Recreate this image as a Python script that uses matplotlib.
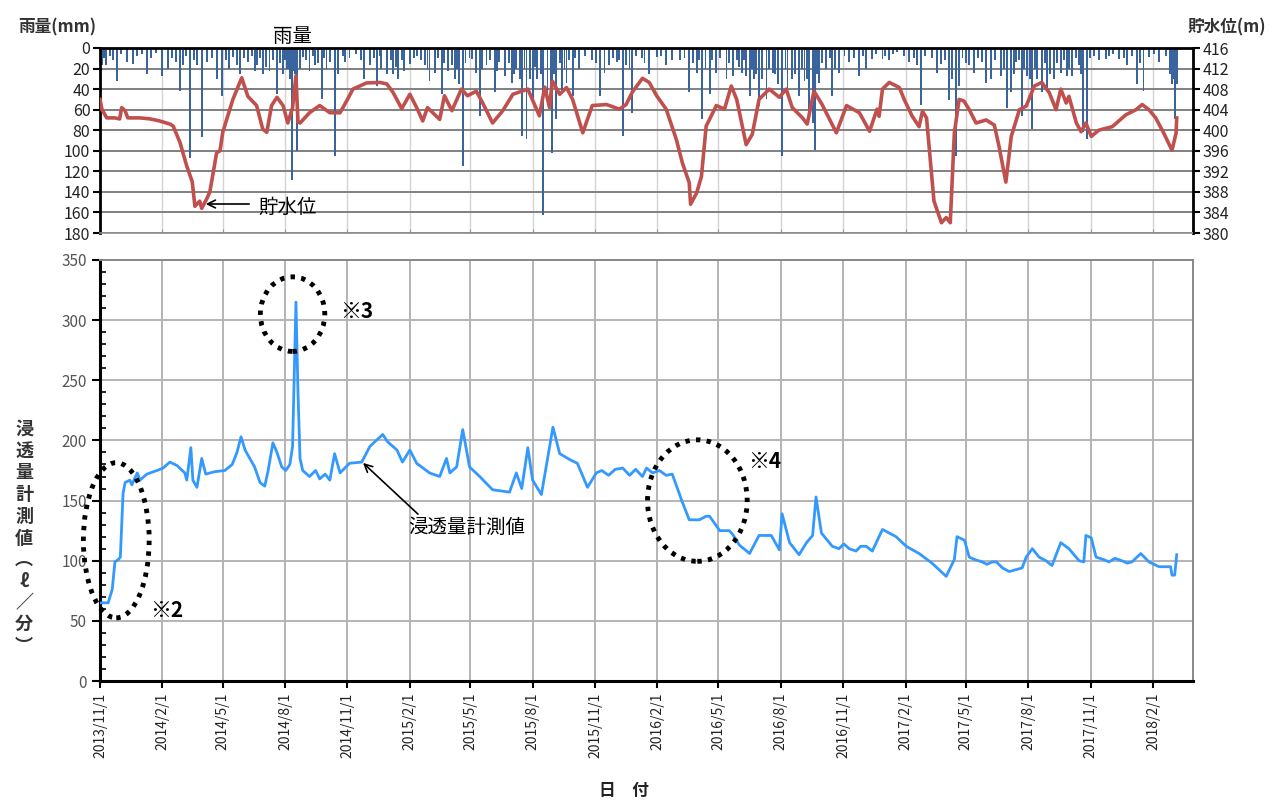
import matplotlib
matplotlib.use('Agg')
import matplotlib.pyplot as plt
import matplotlib.dates as mdates
from matplotlib.patches import Ellipse, FancyArrowPatch
from matplotlib.ticker import MultipleLocator
import pandas as pd

plt.rcParams['font.family'] = ['Noto Sans CJK JP', 'DejaVu Sans']

START = pd.Timestamp('2013-11-01')
END = pd.Timestamp('2018-04-01')

# ---- seepage (l/min), day offsets from START ----
seep_day = [0, 12, 18, 22, 27, 30, 34, 37, 44, 47, 55, 59, 69, 84, 93, 103, 114, 125, 128,
            134, 137, 143, 150, 156, 169, 184, 195, 202, 208, 214, 221, 228, 236, 243, 248,
            255, 261, 268, 274, 280, 284, 289, 292, 295, 299, 309, 318, 324, 332, 339, 346,
            354, 368, 386, 398, 417, 424, 438, 446, 457, 467, 486, 501, 511, 516, 526, 535,
            545, 560, 579, 604, 614, 622, 631, 638, 651, 668, 678, 693, 704, 719, 732, 740,
            750, 760, 771, 781, 790, 800, 806, 815, 825, 835, 844, 858, 869, 884, 894, 899,
            914, 928, 933, 943, 958, 972, 990, 1002, 1006, 1017, 1031, 1042, 1051, 1056, 1064,
            1080, 1090, 1097, 1105, 1115, 1122, 1130, 1139, 1154, 1174, 1189, 1208, 1227, 1248,
            1260, 1264, 1275, 1282, 1290, 1301, 1308, 1316, 1322, 1331, 1341, 1360, 1366, 1375,
            1385, 1395, 1404, 1417, 1429, 1444, 1451, 1454, 1462, 1469, 1480, 1488, 1497, 1507,
            1515, 1522, 1535, 1547, 1562, 1579, 1581, 1585, 1588]
seep_val = [65, 65, 76, 99, 101, 103, 156, 165, 167, 163, 173, 167, 172, 175, 177, 182, 179, 173, 167,
            194, 167, 161, 185, 172, 174, 175, 180, 190, 203, 192, 185, 178, 165, 162, 175,
            198, 190, 178, 175, 180, 195, 315, 240, 185, 175, 170, 175, 168, 172, 167, 189,
            173, 181, 182, 195, 205, 199, 192, 182, 192, 181, 173, 170, 185, 173, 178, 209,
            178, 170, 159, 157, 173, 160, 194, 167, 155, 211, 189, 184, 181, 161, 173, 175,
            171, 176, 177, 171, 176, 170, 177, 173, 175, 171, 172, 150, 134, 134, 137, 137,
            125, 125, 122, 113, 106, 121, 121, 109, 139, 115, 105, 115, 121, 153, 123,
            112, 110, 114, 110, 108, 112, 112, 108, 126, 120, 112, 106, 98, 87,
            101, 120, 117, 103, 101, 99, 97, 99, 99, 94, 91, 94, 103, 110,
            103, 100, 96, 115, 110, 100, 99, 121, 119, 103, 101, 99, 102, 100,
            98, 99, 106, 99, 95, 95, 88, 88, 105]

# ---- reservoir water level (m) ----
level_day = [0, 3, 10, 22, 29, 32, 37, 41, 59, 74, 88, 103, 108, 118, 128, 136, 140, 147, 150,
             158, 162, 172, 177, 181, 196, 209, 218, 231, 240, 246, 253, 261, 270, 277, 284,
             289, 292, 295, 309, 324, 339, 354, 365, 373, 393, 413, 423, 432, 445, 457, 467,
             476, 483, 501, 508, 519, 533, 542, 555, 564, 579, 594, 609, 631, 648, 656, 663,
             667, 678, 688, 697, 712, 726, 747, 766, 776, 785, 800, 810, 821, 835, 850, 859,
             869, 871, 880, 887, 894, 909, 921, 931, 939, 953, 962, 972, 987, 1002, 1012,
             1021, 1036, 1043, 1053, 1065, 1086, 1101, 1120, 1135, 1146, 1149, 1154, 1164,
             1179, 1186, 1198, 1208, 1213, 1219, 1230, 1241, 1248, 1254, 1260, 1267, 1274,
             1282, 1292, 1307, 1319, 1326, 1336, 1344, 1356, 1366, 1378, 1389, 1400, 1410,
             1417, 1425, 1429, 1440, 1447, 1454, 1462, 1473, 1493, 1513, 1528, 1537, 1547,
             1557, 1569, 1581, 1587, 1588]
level_val = [406.0, 404.0, 402.4, 402.4, 402.2, 404.4, 403.8, 402.4, 402.4, 402.2, 401.8, 401.2,
             400.8, 397.6, 393.0, 390.0, 385.2, 386.2, 384.8, 386.8, 388.0, 395.6, 396.0, 399.6,
             406.0, 410.2, 406.6, 404.8, 400.2, 399.6, 404.8, 406.4, 404.8, 401.4, 404.4, 410.6,
             401.6, 401.4, 403.4, 404.8, 403.4, 403.4, 406.0, 408.0, 409.2, 409.3, 409.0, 407.4,
             404.2, 407.0, 404.4, 401.8, 404.4, 402.1, 406.7, 403.8, 408.0, 406.7, 407.6, 405.4,
             401.4, 403.8, 407.0, 408.0, 402.8, 408.4, 404.4, 409.6, 407.0, 408.3, 406.0, 399.5,
             404.8, 405.0, 404.1, 405.0, 407.4, 410.1, 409.3, 406.7, 404.1, 398.2, 393.6, 389.8,
             385.6, 387.8, 391.0, 400.8, 404.8, 404.1, 408.6, 406.0, 397.2, 399.2, 406.0, 408.0,
             406.4, 408.0, 404.4, 402.4, 401.2, 407.6, 405.0, 399.5, 404.8, 403.4, 399.8, 404.1,
             402.7, 408.0, 409.3, 408.3, 406.0, 402.7, 400.7, 403.7, 402.4, 386.2, 382.0, 383.0,
             382.0, 399.4, 406.0, 405.7, 404.0, 401.4, 402.0, 401.0, 396.8, 389.9, 398.8, 404.0,
             404.7, 408.6, 409.3, 407.3, 404.0, 408.0, 405.3, 406.6, 401.4, 399.7, 401.4, 398.8,
             400.0, 400.7, 403.0, 404.0, 405.0, 404.0, 402.4, 399.4, 396.1, 399.4, 402.4]

# ---- daily rainfall (mm) ----
rain_day = [3, 9, 25, 40, 49, 69, 91, 100, 118, 122, 133, 143, 150, 158, 172, 180, 196, 202, 206,
            218, 231, 240, 250, 261, 276, 280, 283, 287, 290, 295, 299, 309, 317, 327, 334, 339,
            346, 351, 361, 390, 398, 408, 415, 423, 432, 439, 449, 467, 479, 486, 494, 504, 513,
            519, 523, 530, 535, 548, 555, 560, 570, 582, 589, 597, 607, 614, 619, 623, 629, 638,
            645, 654, 660, 667, 673, 681, 688, 697, 707, 737, 744, 751, 762, 771, 776, 784, 810,
            821, 835, 844, 855, 869, 880, 888, 899, 909, 924, 933, 947, 953, 958, 965, 972, 983,
            992, 1006, 1014, 1021, 1031, 1039, 1046, 1051, 1055, 1061, 1071, 1080, 1090, 1105,
            1120, 1130, 1139, 1154, 1164, 1176, 1193, 1205, 1211, 1235, 1241, 1252, 1257, 1263,
            1267, 1282, 1289, 1301, 1307, 1314, 1329, 1338, 1344, 1351, 1360, 1367, 1375, 1382,
            1389, 1397, 1407, 1417, 1426, 1434, 1444, 1450, 1456, 1473, 1484, 1503, 1515, 1529,
            1539, 1547, 1562, 1581, 1585, 1588,
            6, 15, 19, 31, 55, 62, 75, 82, 106, 112, 127, 139, 165, 186, 190, 212,
            224, 228, 236, 245, 255, 265, 270, 273, 277, 284, 286,
            304, 314, 321, 330, 358, 368, 377, 385, 404, 413, 429, 436,
            445, 457, 463, 473, 483, 498, 508, 527, 539, 545, 564, 575, 586,
            603, 611, 626, 634, 642, 650, 665, 670, 678, 685, 692, 701, 715, 725, 731,
            756, 766, 781, 790, 799, 803, 828, 862, 874, 884,
            893, 903, 915, 928, 939, 943, 950, 961, 968, 977, 987, 996, 1000, 1011, 1025,
            1036, 1043, 1058, 1065, 1076, 1084, 1098, 1112, 1125, 1145, 1158, 1170,
            1186, 1201, 1217, 1227, 1246, 1272, 1277, 1295, 1320,
            1333, 1348, 1356, 1363, 1372, 1379, 1394, 1401, 1411, 1422, 1429, 1440, 1447, 1460, 1466,
            1488, 1494, 1510, 1522, 1534, 1554, 1572, 1578, 1582]
rain_mm = [17, 17, 32, 14, 16, 25, 27, 20, 42, 17, 107, 17, 87, 14, 30, 47, 9, 17, 25,
           14, 17, 25, 22, 45, 20, 30, 128, 25, 100, 20, 9, 22, 17, 50, 20, 14,
           105, 25, 14, 30, 17, 37, 20, 25, 25, 30, 22, 8, 17, 32, 24, 45, 22,
           17, 30, 35, 115, 11, 24, 66, 17, 43, 14, 27, 34, 20, 30, 86, 89, 53,
           30, 162, 47, 102, 69, 42, 34, 47, 20, 47, 24, 17, 14, 86, 17, 63, 25,
           9, 17, 12, 12, 43, 24, 69, 45, 24, 30, 27, 24, 27, 47, 30, 56, 50,
           24, 105, 40, 30, 47, 32, 60, 73, 99, 34, 20, 47, 24, 14,
           27, 20, 11, 11, 12, 4, 14, 17, 55, 24, 16, 51, 30, 105,
           37, 17, 24, 14, 34, 30, 27, 58, 43, 14, 66, 27, 79, 30,
           43, 40, 30, 24, 27, 27, 17, 82, 89, 12, 11, 11, 17, 35,
           42, 9, 14, 35, 69, 35,
           10, 8, 12, 6, 8, 6, 10, 5, 10, 14, 8, 12, 10, 12, 20, 10,
           8, 22, 10, 18, 12, 15, 25, 12, 20, 22, 15,
           12, 8, 15, 10, 8, 10, 6, 12, 10, 8, 12, 18,
           12, 16, 10, 12, 20, 10, 15, 20, 15, 10, 20, 12, 22,
           15, 25, 20, 30, 18, 25, 35, 25, 15, 20, 12, 10, 8, 12, 15,
           10, 12, 20, 8, 10, 15, 8, 10, 15, 12,
           20, 12, 10, 15, 12, 18, 12, 20, 25, 30, 20, 25, 35, 20, 25,
           20, 30, 25, 15, 10, 20, 8, 10, 8, 6, 8, 6,
           8, 10, 8, 10, 12, 10, 15, 10, 12,
           20, 25, 12, 20, 30, 20, 15, 25, 15, 12, 20, 10, 25, 10, 8,
           8, 6, 10, 8, 15, 6, 8, 25, 30]

tick_dates = pd.date_range('2013-11-01', '2018-02-01', freq='3MS')
tick_labels = [f'{d.year}/{d.month}/1' for d in tick_dates]


def to_dates(days):
    return [START + pd.Timedelta(days=float(d)) for d in days]


W, H = 1279, 800
fig = plt.figure(figsize=(W / 100, H / 100), dpi=100)


def fx(px):
    return px / W


def fy(py):
    return 1 - py / H


# ---------------- top panel ----------------
ax1 = fig.add_axes([fx(100), fy(233), fx(1193) - fx(100), fy(48) - fy(233)])
ax1.bar(to_dates(rain_day), rain_mm, width=2.8, color='#3a649e', align='center', zorder=2)
ax1.set_ylim(180, 0)
ax1.set_xlim(START, END)
ax1.set_yticks(range(0, 181, 20))
ax1.set_xticks(tick_dates)
ax1.set_xticklabels([])
ax1.tick_params(axis='x', length=3, direction='in', color='#999999')
ax1.tick_params(axis='y', labelsize=11.5, length=5, width=1.5, labelcolor='#222222', pad=2)
ax1.yaxis.grid(True, color='#808080', lw=1.4, zorder=0)
ax1.xaxis.grid(True, color='#d4d4d4', lw=1.0, zorder=0)
ax1.set_axisbelow(True)
for s in ['left', 'top', 'right']:
    ax1.spines[s].set_color('black')
    ax1.spines[s].set_linewidth(2)
ax1.spines['bottom'].set_color('#909090')
ax1.spines['bottom'].set_linewidth(1.2)

ax2 = ax1.twinx()
ax2.plot(to_dates(level_day), level_val, color='#c0504d', lw=2.6, zorder=3)
ax2.set_ylim(380, 416)
ax2.set_yticks(range(380, 417, 4))
ax2.tick_params(axis='y', labelsize=11.5, length=5, width=1.5, labelcolor='#222222', pad=2)
ax2.set_xlim(START, END)
for s in ax2.spines.values():
    s.set_visible(False)

fig.text(fx(18), fy(27), '雨量(mm)', fontsize=12, fontweight='bold', color='#333333', va='center', ha='left')
fig.text(fx(1188), fy(27), '貯水位(m)', fontsize=12, fontweight='bold', color='#333333', va='center', ha='left')
fig.text(fx(293), fy(36), '雨量', fontsize=14, color='black', va='center', ha='center')
fig.text(fx(258), fy(207), '貯水位', fontsize=14, color='black', va='center', ha='left')
fig.add_artist(FancyArrowPatch((fx(252), fy(204)), (fx(203), fy(204)),
               transform=fig.transFigure, arrowstyle='->', mutation_scale=14, lw=1.2, color='black'))

# ---------------- bottom panel ----------------
ax3 = fig.add_axes([fx(100), fy(681), fx(1193) - fx(100), fy(260) - fy(681)])
ax3.plot(to_dates(seep_day), seep_val, color='#3399ff', lw=2.0, zorder=3)
ax3.set_xlim(START, END)
ax3.set_ylim(0, 350)
ax3.set_yticks(range(0, 351, 50))
ax3.yaxis.set_minor_locator(MultipleLocator(10))
ax3.set_xticks(tick_dates)
ax3.set_xticklabels(tick_labels, rotation=90, fontsize=10, color='#222222')
ax3.tick_params(axis='y', which='major', labelsize=11, labelcolor='#555555', length=6, width=1.5, direction='out')
ax3.tick_params(axis='y', which='minor', length=4, width=1.2, direction='in')
ax3.tick_params(axis='x', length=5, width=1.5, direction='out')
ax3.grid(True, which='major', color='#b4b4b4', lw=1.4, zorder=0)
ax3.set_axisbelow(True)
ax3.spines['left'].set_linewidth(2.2)
ax3.spines['bottom'].set_linewidth(2.2)
ax3.spines['top'].set_color('#888888')
ax3.spines['right'].set_color('#888888')
ax3.spines['top'].set_linewidth(1.4)
ax3.spines['right'].set_linewidth(1.4)

# y label (vertical Japanese)
ylab = '\n'.join(['浸', '透', '量', '計', '測', '値', '︵', 'ℓ', '／', '分', '︶'])
fig.text(fx(24), fy(538), ylab, fontsize=13, fontweight='bold', color='#333333',
         ha='center', va='center', linespacing=1.18)
fig.text(fx(624), fy(791), '日　付', fontsize=12, fontweight='bold', color='#222222', ha='center', va='center')


# dotted ellipses and markers
def dday(d):
    return mdates.date2num(START + pd.Timedelta(days=d))


ell_kw = dict(fill=False, edgecolor='black', lw=3.5, linestyle=(0, (0.9, 1.3)), zorder=4, clip_on=False)
ax3.add_patch(Ellipse((dday(24), 117), width=dday(97) - dday(0), height=129, **ell_kw))
ax3.add_patch(Ellipse((dday(284), 305), width=dday(95) - dday(0), height=62, **ell_kw))
ax3.add_patch(Ellipse((dday(881), 150), width=dday(147) - dday(0), height=101, **ell_kw))

fig.text(fx(150), fy(610), '※2', fontsize=15, fontweight='bold', ha='left', va='center')
fig.text(fx(340), fy(311), '※3', fontsize=15, fontweight='bold', ha='left', va='center')
fig.text(fx(748), fy(461), '※4', fontsize=15, fontweight='bold', ha='left', va='center')

fig.text(fx(408), fy(527), '浸透量計測値', fontsize=14, ha='left', va='center')
fig.add_artist(FancyArrowPatch((fx(420), fy(516)), (fx(361), fy(461)),
               transform=fig.transFigure, arrowstyle='->', mutation_scale=14, lw=1.2, color='black'))

fig.savefig('out.png', dpi=100)
